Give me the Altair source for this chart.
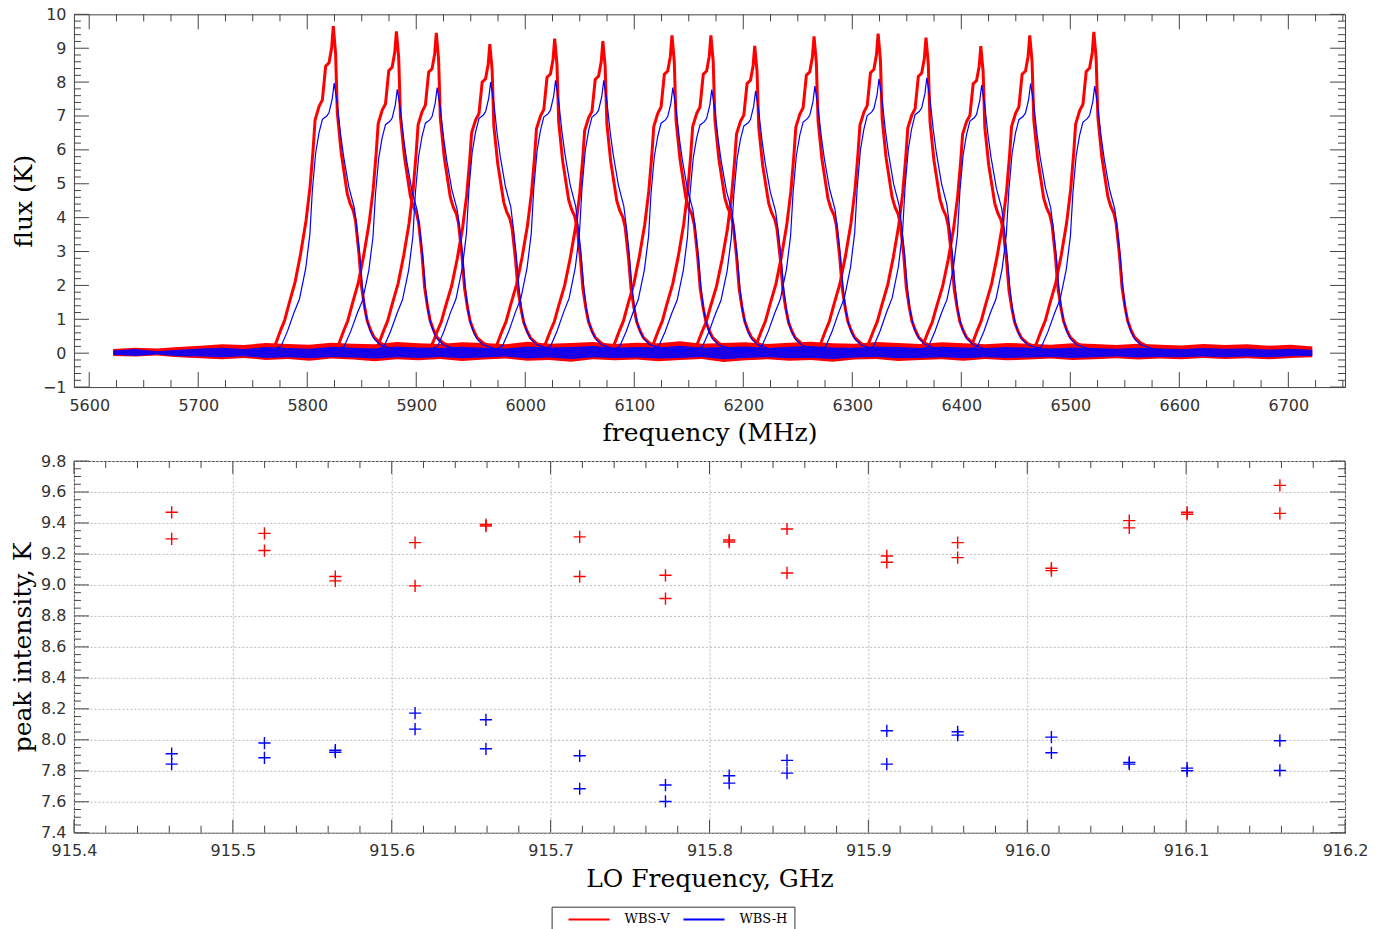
import numpy as np
import pandas as pd
import altair as alt

FRAME = "#444444"
LABEL = "#333333"
RED = "#ff0000"
BLUE = "#0000ff"

# ---------------- top panel: spectra ----------------
peak_center_mhz = [5823.9, 5881.8, 5918.4, 5967.5, 6027.0, 6071.2, 6134.6, 6170.3,
                   6210.5, 6264.9, 6323.7, 6367.6, 6417.9, 6462.8, 6521.6]
peak_v_k = [9.65, 9.50, 9.45, 9.12, 9.28, 9.21, 9.38, 9.38, 9.07, 9.35, 9.43, 9.31, 9.06, 9.38, 9.48]
peak_h_k = [7.97, 7.79, 7.84, 8.00, 8.05, 8.05, 7.84, 7.78, 7.74, 7.88, 8.10, 8.13, 7.91, 7.96, 7.88]

# line profile read from the first peak (offset from peak in MHz, flux in K)
profile_offset_v = [-75, -55, -52, -48, -44.6, -40.5, -35, -29.9, -25, -21.3,
                    -18.5, -16.7, -13, -10, -7, -3.9, -1.5, 0, 2.1, 3.7,
                    7.3, 12.8, 15.5, 18.3, 20.4, 23.5, 25.9, 28.5, 31, 34,
                    37.2, 43, 55, 75]
profile_level_v = [0.05, 0.12, 0.35, 0.7, 0.97, 1.47, 2.1, 2.94, 3.9, 4.9,
                   6.0, 6.87, 7.27, 7.46, 8.45, 8.55, 9.0, 9.63, 8.84, 7.07,
                   5.89, 4.7, 4.4, 4.2, 3.9, 2.94, 1.96, 1.4, 0.97, 0.7,
                   0.48, 0.3, 0.12, 0.05]
profile_offset_h = [-75, -55, -48, -42, -36, -31, -25.3, -21.5, -19.2, -16.2,
                    -13.1, -10, -6, -3.9, -1, 0.8, 3.7, 6.7, 9.5, 14.3,
                    19.2, 21.9, 24.2, 26.5, 29, 31.5, 34.5, 38, 43, 55, 75]
profile_level_h = [0.05, 0.1, 0.2, 0.65, 1.2, 1.6, 2.5, 3.5, 4.8, 5.9,
                   6.5, 6.9, 7.0, 7.1, 7.5, 7.97, 7.35, 6.46, 5.8, 4.9,
                   4.3, 3.6, 2.9, 2.0, 1.3, 0.9, 0.6, 0.4, 0.25, 0.12, 0.05]

# baseline noise band (every 20 MHz from 5622 MHz)
base_freq = list(range(5622, 6723, 20))
red_base_hi = [0.12, 0.16, 0.14, 0.18, 0.22, 0.26, 0.24, 0.30,
               0.27, 0.25, 0.31, 0.28, 0.26, 0.33, 0.29, 0.27,
               0.32, 0.30, 0.26, 0.34, 0.28, 0.30, 0.33, 0.27,
               0.31, 0.29, 0.35, 0.28, 0.30, 0.32, 0.27, 0.31,
               0.34, 0.29, 0.28, 0.33, 0.30, 0.27, 0.32, 0.29,
               0.26, 0.30, 0.28, 0.25, 0.29, 0.27, 0.24, 0.28,
               0.25, 0.23, 0.27, 0.24, 0.26, 0.22, 0.25, 0.20]
red_base_lo = [-0.08, -0.10, -0.07, -0.12, -0.15, -0.18, -0.14, -0.20,
               -0.17, -0.22, -0.16, -0.19, -0.24, -0.18, -0.21, -0.17,
               -0.23, -0.19, -0.16, -0.22, -0.20, -0.25, -0.18, -0.21,
               -0.19, -0.24, -0.20, -0.17, -0.26, -0.21, -0.18, -0.22,
               -0.20, -0.25, -0.19, -0.17, -0.23, -0.20, -0.18, -0.22,
               -0.17, -0.21, -0.19, -0.16, -0.20, -0.18, -0.15, -0.19,
               -0.16, -0.18, -0.14, -0.17, -0.15, -0.18, -0.14, -0.12]
blue_base_hi = [0.08, 0.12, 0.06, 0.10, 0.14, 0.16, 0.12, 0.18,
                0.15, 0.13, 0.19, 0.16, 0.14, 0.20, 0.17, 0.15,
                0.19, 0.16, 0.14, 0.20, 0.17, 0.18, 0.21, 0.16,
                0.18, 0.17, 0.22, 0.16, 0.18, 0.20, 0.15, 0.19,
                0.21, 0.17, 0.16, 0.20, 0.18, 0.15, 0.19, 0.17,
                0.15, 0.18, 0.16, 0.14, 0.17, 0.15, 0.13, 0.16,
                0.14, 0.12, 0.15, 0.13, 0.14, 0.11, 0.13, 0.10]
blue_base_lo = [-0.05, -0.08, -0.04, -0.09, -0.10, -0.12, -0.09, -0.14,
                -0.12, -0.15, -0.11, -0.13, -0.16, -0.12, -0.14, -0.11,
                -0.15, -0.13, -0.10, -0.16, -0.13, -0.17, -0.12, -0.14,
                -0.13, -0.16, -0.14, -0.11, -0.18, -0.14, -0.12, -0.15,
                -0.14, -0.17, -0.13, -0.11, -0.15, -0.14, -0.12, -0.15,
                -0.12, -0.14, -0.13, -0.11, -0.14, -0.12, -0.10, -0.13,
                -0.11, -0.12, -0.10, -0.12, -0.10, -0.12, -0.09, -0.08]

top_x_major = [5600, 5700, 5800, 5900, 6000, 6100, 6200, 6300, 6400, 6500, 6600, 6700]
top_y_major = [-1, 0, 1, 2, 3, 4, 5, 6, 7, 8, 9, 10]

# ---------------- bottom panel: peak intensities ----------------
lo_ghz = [915.4615, 915.5199, 915.5645, 915.6147, 915.6593, 915.7183, 915.7723, 915.8124,
          915.8488, 915.9116, 915.9562, 916.0152, 916.0642, 916.1006, 916.1590]
v_scan1 = [9.469, 9.333, 9.054, 9.273, 9.390, 9.310, 9.062, 9.290, 9.361, 9.187, 9.273, 9.108, 9.415, 9.469, 9.643]
v_scan2 = [9.297, 9.222, 9.026, 8.994, 9.380, 9.054, 8.912, 9.277, 9.077, 9.146, 9.176, 9.092, 9.368, 9.456, 9.462]
h_scan1 = [7.910, 7.979, 7.933, 8.172, 8.129, 7.897, 7.708, 7.768, 7.867, 8.058, 8.052, 8.017, 7.854, 7.817, 7.994]
h_scan2 = [7.843, 7.884, 7.920, 8.069, 7.942, 7.684, 7.602, 7.720, 7.785, 7.843, 8.030, 7.916, 7.843, 7.800, 7.802]

bot_x_major = [915.4, 915.5, 915.6, 915.7, 915.8, 915.9, 916.0, 916.1, 916.2]
bot_y_major = [7.4, 7.6, 7.8, 8.0, 8.2, 8.4, 8.6, 8.8, 9.0, 9.2, 9.4, 9.6, 9.8]
series_names = ["WBS-V", "WBS-H"]

# ---------------- build tables ----------------
W = 1272
H_TOP = 373
H_BOT = 372

rows = []
vmax = max(profile_level_v)
hmax = max(profile_level_h)
for i, c in enumerate(peak_center_mhz):
    for o, l in zip(profile_offset_v, profile_level_v):
        rows.append({"freq": c + o, "flux": l * peak_v_k[i] / vmax, "scan": f"V{i}", "pol": "WBS-V"})
    for o, l in zip(profile_offset_h, profile_level_h):
        rows.append({"freq": c + o, "flux": l * peak_h_k[i] / hmax, "scan": f"H{i}", "pol": "WBS-H"})
spec = pd.DataFrame(rows)

band = pd.DataFrame({"freq": base_freq, "rlo": red_base_lo, "rhi": red_base_hi,
                     "blo": blue_base_lo, "bhi": blue_base_hi})

pts = pd.DataFrame({
    "lo": lo_ghz * 4,
    "peak": v_scan1 + v_scan2 + h_scan1 + h_scan2,
    "pol": ["WBS-V"] * 30 + ["WBS-H"] * 30,
})


def minor(start, stop, step, major_step):
    out = []
    v = start
    while v <= stop + 1e-9:
        r = round(v / major_step)
        if abs(v / major_step - r) > 1e-6:
            out.append(round(v, 4))
        v += step
    return out


top_x_minor = minor(5600, 6750, 25, 100)
top_y_minor = minor(-1, 10, 0.2, 1)
bot_x_minor = minor(915.4, 916.2, 0.02, 0.1)
bot_y_minor = minor(7.4, 9.8, 0.05, 0.2)

top_x = alt.Scale(domain=[5586, 6752], nice=False, zero=False)
top_y = alt.Scale(domain=[-1, 10], nice=False, zero=False)
bot_x = alt.Scale(domain=[915.4, 916.2], nice=False, zero=False)
bot_y = alt.Scale(domain=[7.4, 9.8], nice=False, zero=False)

axis_common = dict(ticks=False, domain=False, labelFont="DejaVu Sans", labelFontSize=16,
                   labelColor=LABEL, titleFont="DejaVu Serif", titleFontSize=25,
                   titleFontWeight="normal", titleColor="black", labelFlush=False,
                   labelOverlap=False)

top_x_axis = alt.Axis(values=top_x_major, format="d", title="frequency (MHz)",
                      grid=False, labelPadding=10, titlePadding=7, **axis_common)
top_y_axis = alt.Axis(values=top_y_major, format="d", title="flux (K)",
                      grid=False, labelPadding=8, titlePadding=6, **axis_common)
bot_x_axis = alt.Axis(values=bot_x_major, format=".1f", title="LO Frequency, GHz",
                      grid=True, gridColor="#bbbbbb", gridDash=[2, 2], gridWidth=1,
                      labelPadding=10, titlePadding=8, **axis_common)
bot_y_axis = alt.Axis(values=bot_y_major, format=".1f", title="peak intensity, K",
                      grid=True, gridColor="#bbbbbb", gridDash=[2, 2], gridWidth=1,
                      labelPadding=8, titlePadding=5, **axis_common)


def side_ticks(values, channel, scale, axis, length, h):
    df = pd.DataFrame({"t": values})
    base = alt.Chart(df).mark_rule(color=FRAME, strokeWidth=1)
    if channel == "y":
        enc = alt.Y("t:Q", scale=scale, axis=axis)
        return [base.encode(y=enc, x=alt.value(0), x2=alt.value(length)),
                base.encode(y=enc, x=alt.value(W - length), x2=alt.value(W))]
    enc = alt.X("t:Q", scale=scale, axis=axis)
    return [base.encode(x=enc, y=alt.value(h - length), y2=alt.value(h)),
            base.encode(x=enc, y=alt.value(0), y2=alt.value(length))]


# ---------------- top chart ----------------
red_band = alt.Chart(band).mark_area(color=RED, opacity=1).encode(
    x=alt.X("freq:Q", scale=top_x, axis=top_x_axis),
    y=alt.Y("rlo:Q", scale=top_y, axis=top_y_axis),
    y2="rhi:Q",
)
red_lines = alt.Chart(spec[spec.pol == "WBS-V"]).mark_line(color=RED, strokeWidth=3).encode(
    x=alt.X("freq:Q", scale=top_x, axis=top_x_axis),
    y=alt.Y("flux:Q", scale=top_y, axis=top_y_axis),
    detail="scan:N",
)
blue_band = alt.Chart(band).mark_area(color=BLUE, opacity=0.9).encode(
    x=alt.X("freq:Q", scale=top_x, axis=top_x_axis),
    y=alt.Y("blo:Q", scale=top_y, axis=top_y_axis),
    y2="bhi:Q",
)
blue_lines = alt.Chart(spec[spec.pol == "WBS-H"]).mark_line(color=BLUE, strokeWidth=1.2).encode(
    x=alt.X("freq:Q", scale=top_x, axis=top_x_axis),
    y=alt.Y("flux:Q", scale=top_y, axis=top_y_axis),
    detail="scan:N",
)
top_layers = [red_band, red_lines, blue_band, blue_lines]
top_layers += side_ticks(top_y_major, "y", top_y, top_y_axis, 15, H_TOP)
top_layers += side_ticks(top_y_minor, "y", top_y, top_y_axis, 7, H_TOP)
top_layers += side_ticks(top_x_major, "x", top_x, top_x_axis, 15, H_TOP)
top_layers += side_ticks(top_x_minor, "x", top_x, top_x_axis, 7, H_TOP)
top = alt.layer(*top_layers).properties(width=W, height=H_TOP)

# ---------------- bottom chart ----------------
points = alt.Chart(pts).mark_point(shape="M-1,0L1,0M0,-1L0,1", size=150, filled=False,
                                   strokeWidth=1.4, opacity=1).encode(
    x=alt.X("lo:Q", scale=bot_x, axis=bot_x_axis),
    y=alt.Y("peak:Q", scale=bot_y, axis=bot_y_axis),
    color=alt.Color("pol:N", scale=alt.Scale(domain=series_names, range=[RED, BLUE]),
                    legend=alt.Legend(title=None, orient="none", legendX=478, legendY=893,
                                      direction="horizontal", symbolType="M-6,0L6,0",
                                      symbolSize=47, symbolStrokeWidth=2, symbolOffset=25,
                                      labelFont="DejaVu Serif", labelFontSize=13,
                                      labelColor="black", strokeColor="#333333",
                                      padding=6, labelOffset=29, columnPadding=2)),
)
bot_layers = [points]
bot_layers += side_ticks(bot_y_major, "y", bot_y, bot_y_axis, 15, H_BOT)
bot_layers += side_ticks(bot_y_minor, "y", bot_y, bot_y_axis, 7, H_BOT)
bot_layers += side_ticks(bot_x_major, "x", bot_x, bot_x_axis, 13, H_BOT)
bot_layers += side_ticks(bot_x_minor, "x", bot_x, bot_x_axis, 7, H_BOT)
bottom = alt.layer(*bot_layers).properties(width=W, height=H_BOT)

chart = alt.vconcat(top, bottom, spacing=6).properties(
    padding={"left": 2, "top": -3, "right": 0, "bottom": 5},
    background="white",
).configure_view(stroke=FRAME, strokeWidth=1)

chart.save("out.html", embed_options={"renderer": "svg", "actions": False})
